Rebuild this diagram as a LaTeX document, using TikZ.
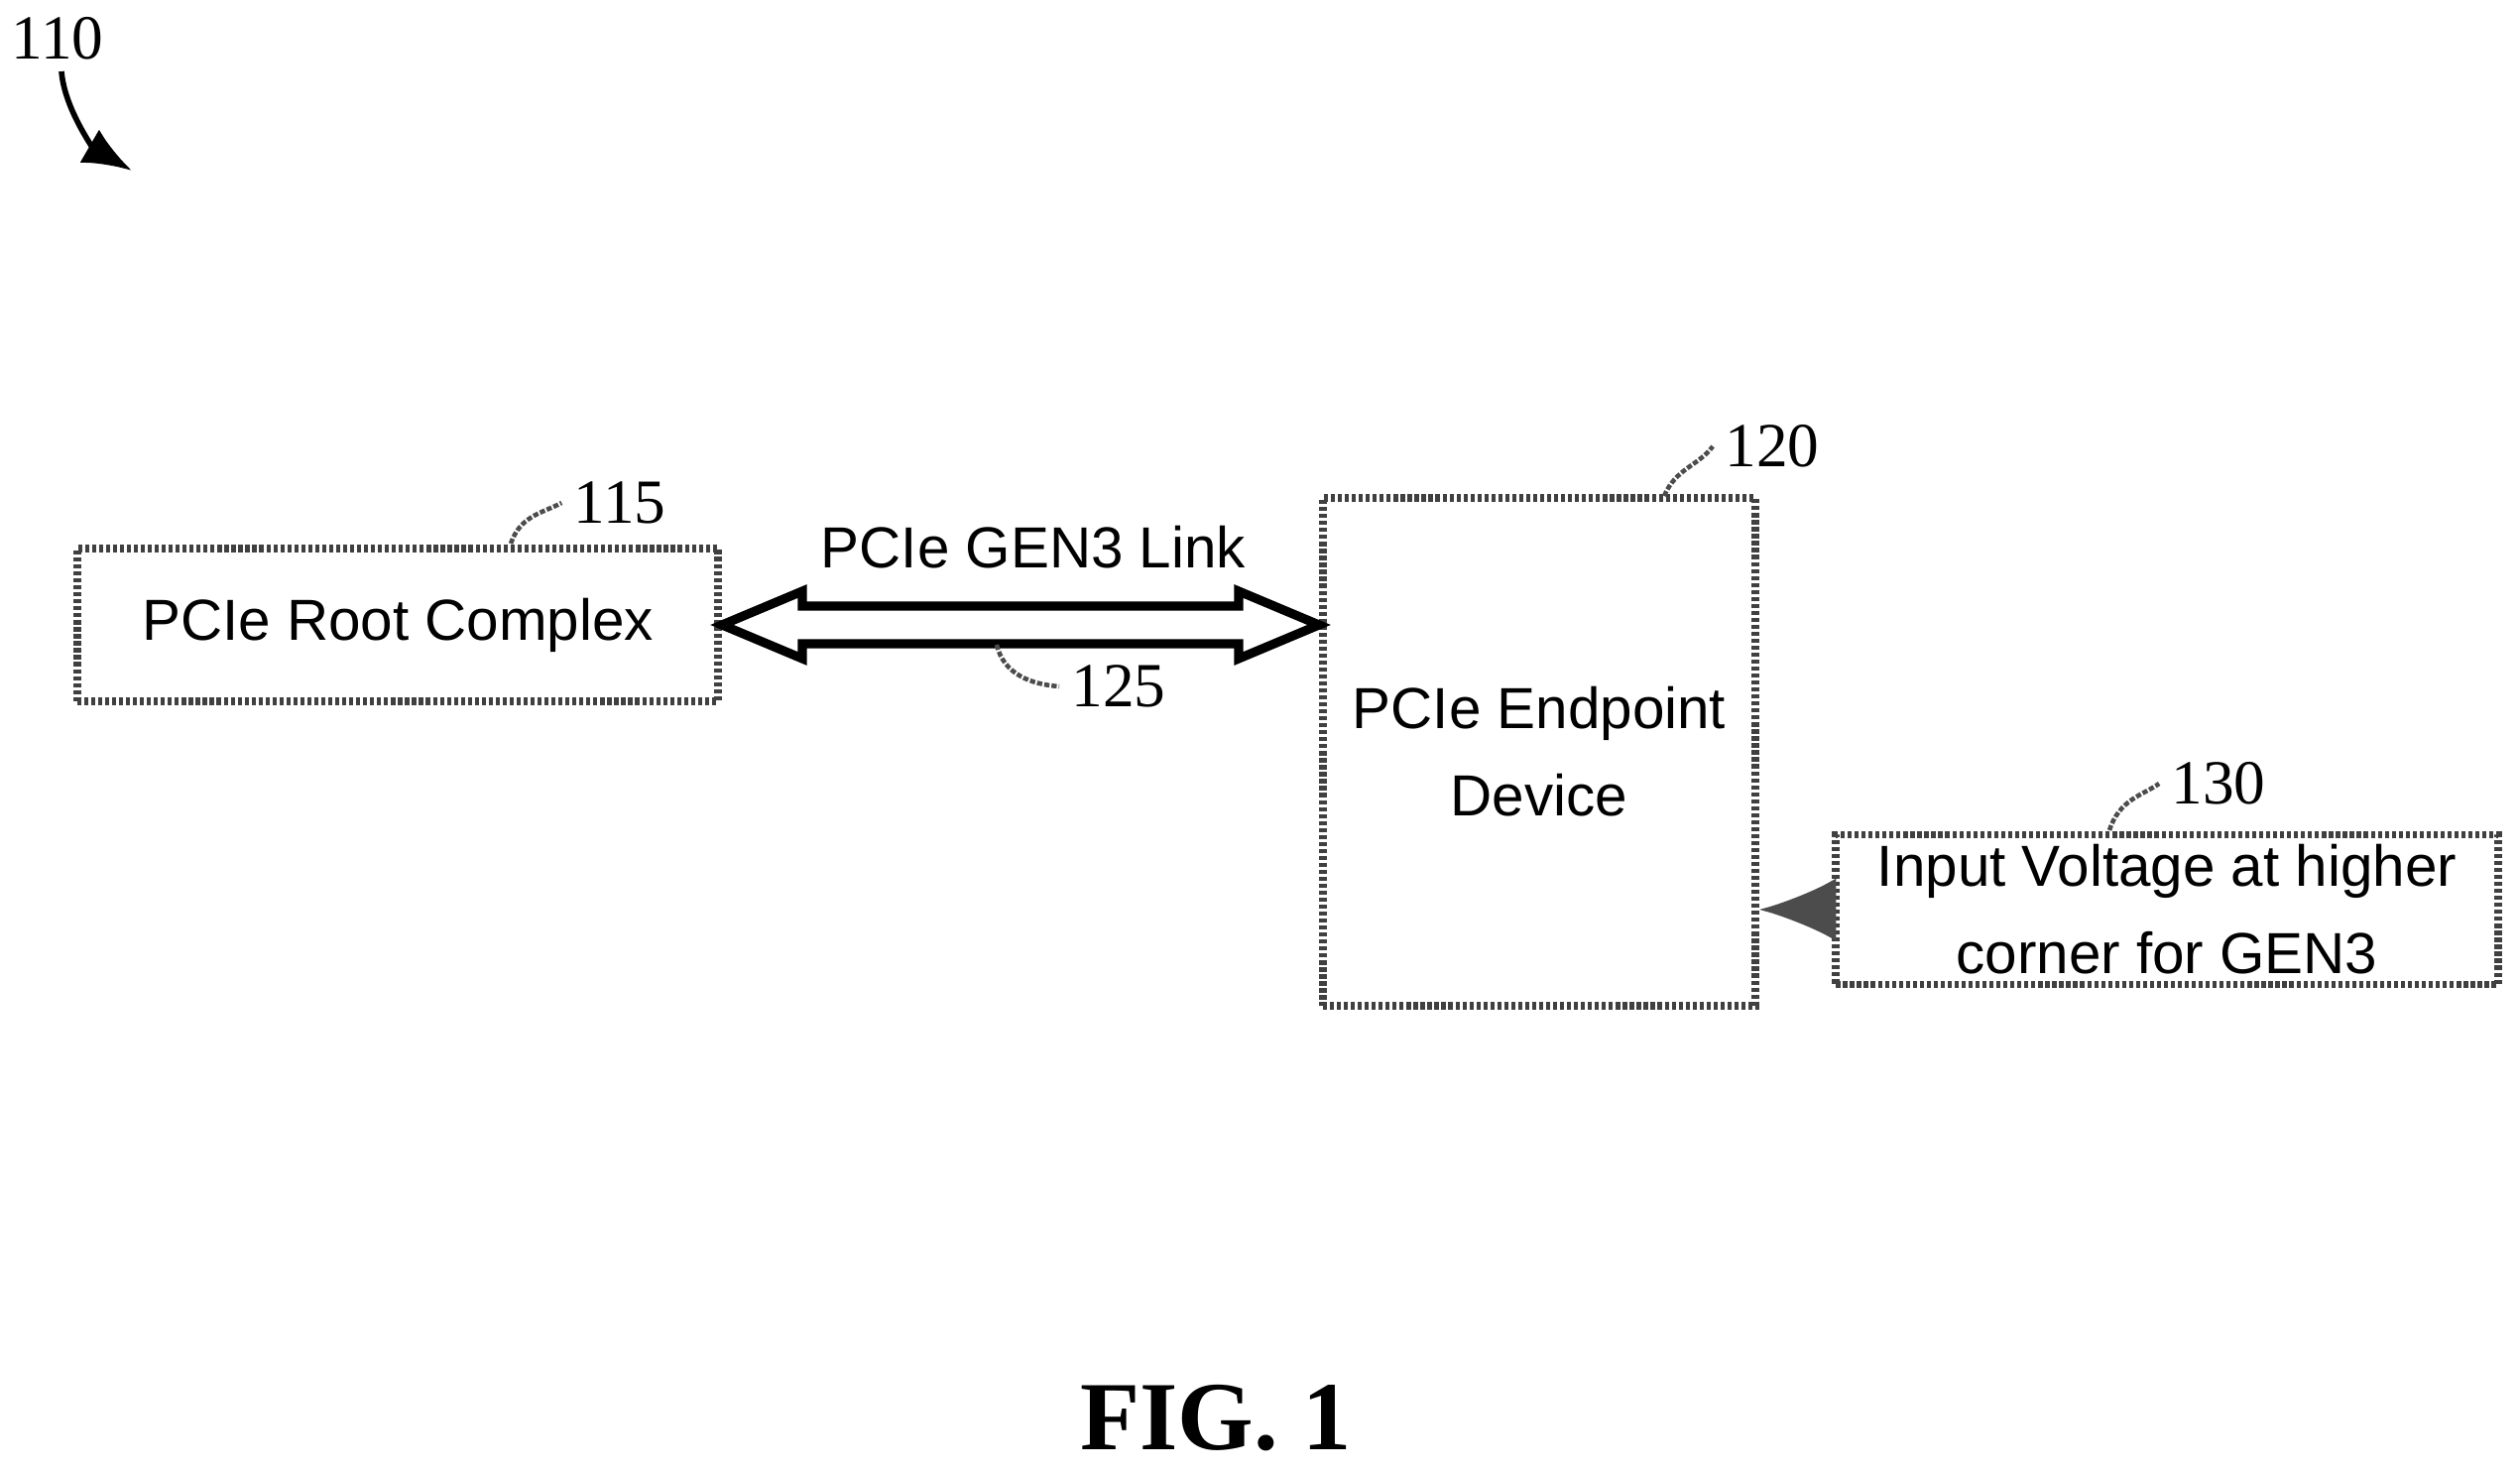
\documentclass[tikz,border=0pt]{standalone}
\usepackage{fontspec}
\setmainfont{Liberation Serif}
\setsansfont{Liberation Sans}
\usetikzlibrary{arrows.meta,calc}
\begin{document}
\begin{tikzpicture}[x=0.01cm,y=-0.01cm,
  box/.style={draw=black!75,line width=2.2pt,dash pattern=on 1.2pt off 0.8pt,inner sep=0pt,font=\sffamily\fontsize{16.6}{25}\selectfont,align=center},
  lbl/.style={font=\fontsize{18}{20}\selectfont},
  sq/.style={draw=black!70,line width=1.3pt,dash pattern=on 1.5pt off 0.6pt}]
\useasboundingbox (0,0) rectangle (2541,1486);
\node[box,minimum width=6.46cm,minimum height=1.54cm] (rc) at (401,630) {PCIe Root Complex};
\node[box,minimum width=4.36cm,minimum height=5.11cm] (ep) at (1552,758) {PCIe Endpoint\\Device};
\node[box,minimum width=6.67cm,minimum height=1.51cm] (iv) at (2185,917) {Input Voltage at higher\\corner for GEN3};
\node[font=\sffamily\fontsize{16.6}{25}\selectfont] (lk) at (1042,552) {PCIe GEN3 Link};
\coordinate (l) at (rc.east);
\coordinate (r) at (ep.west|-rc.east);
\draw[line width=2.6pt,fill=white,line join=miter]
  (l) -- ++(81,-34) -- ++(0,15) -- ($(r)+(-81,-19)$) -- ++(0,-15) -- (r) -- ++(-81,34) -- ++(0,-15)
  -- ($(l)+(81,19)$) -- ++(0,15) -- cycle;
\draw[sq,-{Latex[length=22pt,width=18pt]},draw=black!70,fill=black!50] (iv.west) -- (ep.east|-iv.west);
\node[lbl] (n115) at (625,507) {115};
\node[lbl] (n120) at (1787,450) {120};
\node[lbl] (n125) at (1128,692) {125};
\node[lbl] (n130) at (2237,790) {130};
\node[lbl] (n110) at (58,39) {110};
\node[font=\bfseries\fontsize{28}{32}\selectfont] (fig) at (1226,1430) {FIG. 1};
\draw[sq] (515,548) .. controls (525,520) and (545,518) .. (n115.west);
\draw[sq] (1678,500) .. controls (1690,472) and (1712,470) .. (n120.west);
\draw[sq] (2127,837) .. controls (2137,806) and (2160,802) .. (n130.west);
\draw[sq] (1005,650) .. controls (1012,680) and (1040,690) .. (n125.west);
\draw[line width=1.6pt,-{Latex[length=14pt,width=11pt]}] (62,72) .. controls (65,110) and (95,150) .. (133,172);
\end{tikzpicture}
\end{document}
